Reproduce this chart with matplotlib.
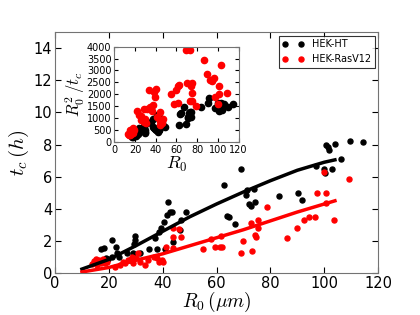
import numpy as np
import matplotlib
matplotlib.use("Agg")
import matplotlib.pyplot as plt

plt.rcParams["mathtext.fontset"] = "cm"
plt.rcParams["font.family"] = "DejaVu Sans"
plt.rcParams["xtick.direction"] = "in"
plt.rcParams["ytick.direction"] = "in"

# HEK-HT (black) : R0 (um), tc (h)
ht_r0 = [17.1, 18.3, 21.3, 22.6, 17.5, 19.0, 19.8, 21.0, 22.9, 23.8, 26.7, 27.9,
         29.8, 29.8, 29.4, 28.9, 31.4, 35.1, 37.8, 37.2, 38.8, 39.4, 40.5, 41.7,
         41.9, 42.8, 43.5, 40.9, 44.0, 46.5, 46.9, 48.7,
         62.8, 63.8, 64.5, 69.0, 66.9, 71.3, 71.0, 71.9, 72.8, 74.0, 74.4, 83.4,
         90.2, 91.7, 97.0, 99.8, 100.2, 100.8, 101.4, 101.8, 102.9, 104.1, 106.4,
         109.7, 114.3]
ht_tc = [1.51, 1.55, 2.03, 1.6, 0.75, 0.95, 0.89, 1.0, 1.24, 0.99, 1.24, 0.83,
         2.32, 2.07, 1.82, 1.28, 1.25, 1.51, 1.51, 2.2, 2.58, 2.8, 3.2, 3.62,
         4.45, 3.83, 3.8, 1.51, 1.96, 2.7, 3.3, 3.8,
         5.48, 3.55, 3.47, 6.47, 3.06, 5.2, 4.86, 4.3, 4.2, 5.23, 4.45, 4.8,
         4.98, 4.55, 6.68, 6.47, 6.24, 7.96, 7.82, 7.65, 6.51, 8.06, 7.09,
         8.23, 8.15]

# HEK-RasV12 (red)
ras_r0 = [13.6, 14.5, 15.2, 15.5, 16.3, 17.0, 17.8, 19.2, 18.5,
          22.3, 24.2, 25.4, 26.0, 27.3, 28.5, 29.1, 30.1, 31.0, 31.6, 33.5, 34.7,
          36.6, 37.8, 38.8, 39.7, 40.0, 41.2, 44.0, 44.0, 46.1, 44.0, 46.9,
          54.8, 57.9, 59.3, 61.4, 62.2, 61.6, 69.2, 70.0, 73.3, 72.9, 74.7, 74.4,
          75.4, 75.4, 78.7, 86.2, 89.9, 92.4, 94.2, 96.7, 97.3, 99.8, 100.7,
          100.7, 103.5, 109.1]
ras_tc = [0.58, 0.75, 0.85, 0.5, 0.8, 0.65, 0.85, 0.72, 0.6,
          0.38, 0.52, 0.72, 0.62, 0.83, 1.0, 0.62, 0.93, 1.24, 0.72, 0.52, 0.83,
          1.03, 0.93, 0.72, 0.83, 0.72, 1.65, 2.8, 2.27, 2.73, 1.55, 2.27,
          1.49, 2.13, 1.63, 1.61, 1.61, 2.32, 1.24, 2.0, 1.39, 3.1, 2.27, 2.38,
          3.31, 2.8, 4.14, 2.17, 2.83, 3.31, 3.47, 3.47, 5.0, 6.31, 5.0,
          4.34, 3.31, 5.83]

# fitted curves
fit_r0 = [10, 20, 30, 40, 50, 60, 70, 80, 90, 100, 104]
fit_ht = [0.25, 0.85, 1.7, 2.6, 3.5, 4.3, 5.05, 5.75, 6.4, 6.9, 7.05]
fit_ras = [0.07, 0.35, 0.8, 1.2, 1.7, 2.2, 2.7, 3.25, 3.8, 4.3, 4.5]

ht_r0 = np.array(ht_r0)
ht_tc = np.array(ht_tc)
ras_r0 = np.array(ras_r0)
ras_tc = np.array(ras_tc)

fig = plt.figure(figsize=(4.2, 3.15), dpi=100)
ax = fig.add_axes([0.131, 0.133, 0.769, 0.765])

ax.plot(ht_r0, ht_tc, "o", color="black", mec="black", ms=3.6, label="HEK-HT")
ax.plot(ras_r0, ras_tc, "o", color="red", mec="red", ms=3.6, label="HEK-RasV12")
ax.plot(fit_r0, fit_ht, "-", color="black", lw=2.5)
ax.plot(fit_r0, fit_ras, "-", color="red", lw=2.5)

ax.set_xlim(0, 120)
ax.set_ylim(0, 15)
ax.set_xticks(range(0, 121, 20))
ax.set_yticks(range(0, 15, 2))
ax.tick_params(labelsize=10.5, top=True, right=True, length=4, pad=2)
ax.set_xlabel(r"$R_0\,(\mu m)$", fontsize=14, labelpad=-1)
ax.set_ylabel(r"$t_c\,(h)$", fontsize=15, labelpad=2)
for s in ax.spines.values():
    s.set_color("0.45")

leg = ax.legend(loc="upper right", numpoints=2, fontsize=7, fancybox=False,
                borderaxespad=0.35, handlelength=2.2, handletextpad=0.8,
                borderpad=0.4, labelspacing=0.5)
leg.get_frame().set_edgecolor("black")
leg.get_frame().set_linewidth(0.8)

# inset: R0^2 / tc
ins = fig.add_axes([0.272, 0.550, 0.296, 0.302])
ins.plot(ht_r0, ht_r0 ** 2 / ht_tc, "o", color="black", mec="black", ms=4.5)
ins.plot(ras_r0, ras_r0 ** 2 / ras_tc, "o", color="red", mec="red", ms=4.5)
ins.set_xlim(0, 120)
ins.set_ylim(0, 4000)
ins.set_xticks(range(0, 121, 20))
ins.set_yticks(range(0, 4001, 500))
ins.tick_params(labelsize=7, top=True, right=True, length=3, pad=2)
ins.set_xlabel(r"$R_0$", fontsize=13, labelpad=0)
ins.set_ylabel(r"$R_0^2\,/t_c$", fontsize=12, labelpad=0)
for s in ins.spines.values():
    s.set_color("0.45")

fig.savefig("out.png", dpi=100)
print("Saved chart")
